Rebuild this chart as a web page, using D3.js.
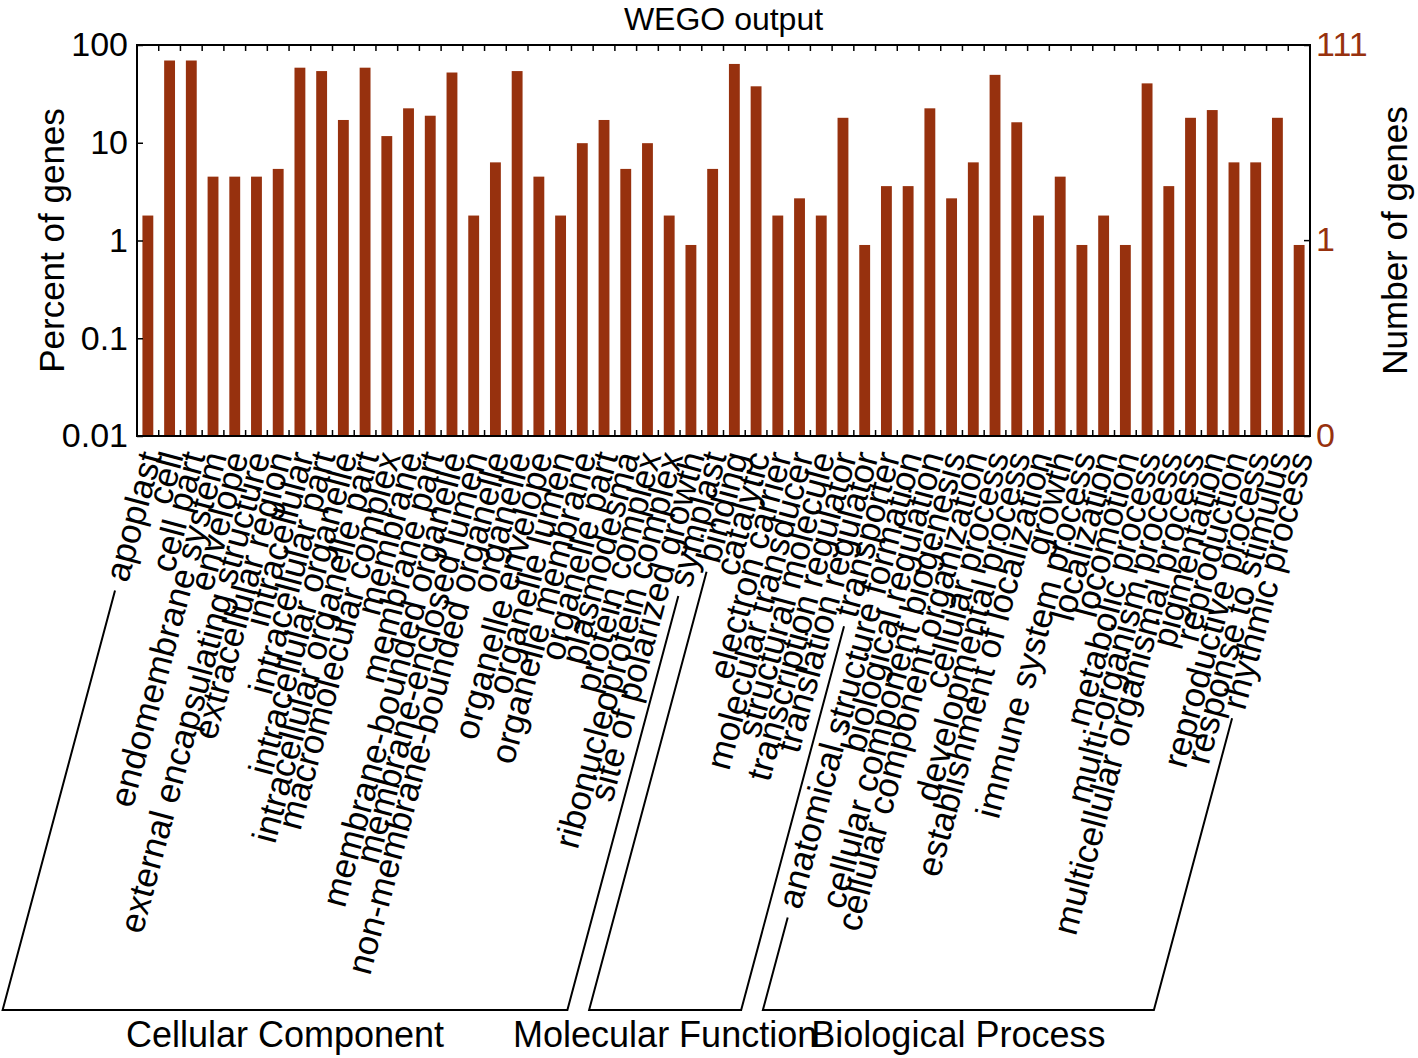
<!DOCTYPE html>
<html lang="en">
<head>
<meta charset="UTF-8">
<title>WEGO output</title>
<script src="https://d3js.org/d3.v7.min.js"></script>
<style>
  body { margin: 0; background: #fff; }
  text { font-family: "Liberation Sans", Arial, Helvetica, sans-serif; }
</style>
</head>
<body>
<div id="chart"></div>
<script>

// GO terms, in plotting order
const categories = [
  "apoplast", "cell", "cell part", "endomembrane system", "envelope",
  "external encapsulating structure", "extracellular region", "intracellular",
  "intracellular part", "intracellular organelle", "intracellular organelle part",
  "macromolecular complex", "membrane", "membrane part", "membrane-bounded organelle",
  "membrane-enclosed lumen", "non-membrane-bounded organelle", "organelle",
  "organelle envelope", "organelle lumen", "organelle membrane", "organelle part",
  "plasmodesma", "protein complex", "ribonucleoprotein complex",
  "site of polarized growth", "symplast",
  "binding", "catalytic", "electron carrier", "molecular transducer",
  "structural molecule", "transcription regulator", "translation regulator", "transporter",
  "anatomical structure formation", "biological regulation",
  "cellular component biogenesis", "cellular component organization", "cellular process",
  "developmental process", "establishment of localization", "growth",
  "immune system process", "localization", "locomotion", "metabolic process",
  "multi-organism process", "multicellular organismal process", "pigmentation",
  "reproduction", "reproductive process", "response to stimulus", "rhythmic process"
];

// percent of genes
const percents = [
  1.8, 69.4, 69.4, 4.5, 4.5, 4.5, 5.4, 58.6, 54.1, 17.1, 58.6,
  11.7, 22.5, 18.9, 52.3, 1.8, 6.3, 54.1, 4.5, 1.8, 9.9, 17.1,
  5.4, 9.9, 1.8, 0.9, 5.4,
  64.0, 37.8, 1.8, 2.7, 1.8, 18.0, 0.9, 3.6,
  3.6, 22.5, 2.7, 6.3, 49.5, 16.2, 1.8, 4.5, 0.9, 1.8, 0.9, 40.5,
  3.6, 18.0, 21.6, 6.3, 6.3, 18.0, 0.9
];

const groupNames = ["Cellular Component", "Molecular Function", "Biological Process"];
const groupSizes = [27, 8, 19];

const percentTicks = [0.01, 0.1, 1, 10, 100];
const geneTicks = [0, 1, 111];

// layout
const W = 1418, H = 1058;
const plot = {left: 137, right: 1310, top: 45, bottom: 436};
const angle = 75;                       // label rotation
const rad = angle * Math.PI / 180;
const labelY = 453;
const baseY = 1010;
const barColor = "#97310e";

const svg = d3.select("#chart").append("svg")
  .attr("width", W)
  .attr("height", H);

// scales
const x = d3.scaleBand()
  .domain(categories)
  .range([plot.left, plot.right])
  .paddingInner(0.5)
  .paddingOuter(0.25);

const y = d3.scaleLog()
  .domain([0.01, 100])
  .range([plot.bottom, plot.top]);

const yRight = d3.scaleSymlog()
  .constant(0.009)
  .domain([0, 111])
  .range([plot.bottom, plot.top]);

// bars
svg.append("g")
  .selectAll("rect")
  .data(categories)
  .join("rect")
    .attr("x", d => x(d))
    .attr("y", (d, i) => y(percents[i]))
    .attr("width", x.bandwidth())
    .attr("height", (d, i) => plot.bottom - y(percents[i]))
    .attr("fill", barColor);

// category separator ticks, top and bottom
const bounds = categories.slice(1).map(d => x(d) - x.step() * 0.25);
svg.append("g")
  .selectAll("line")
  .data(bounds)
  .join("line")
    .attr("x1", d => d).attr("x2", d => d)
    .attr("y1", plot.top).attr("y2", plot.top + 6)
    .attr("stroke", "#000").attr("stroke-width", 1.5);
svg.append("g")
  .selectAll("line")
  .data(bounds)
  .join("line")
    .attr("x1", d => d).attr("x2", d => d)
    .attr("y1", plot.bottom).attr("y2", plot.bottom - 6)
    .attr("stroke", "#000").attr("stroke-width", 1.5);

// left axis
const leftAxis = svg.append("g")
  .attr("transform", "translate(" + plot.left + ",0)")
  .call(d3.axisLeft(y).tickValues(percentTicks).tickFormat(d => String(d))
        .tickSizeInner(-6).tickSizeOuter(0).tickPadding(9));
leftAxis.select(".domain").remove();
leftAxis.selectAll("line").attr("stroke-width", 1.5);
leftAxis.selectAll("text")
  .attr("font-size", 34)
  .attr("fill", "#000")
  .style("font-family", "'Liberation Sans', Arial, sans-serif");

// right axis
const rightAxis = svg.append("g")
  .attr("transform", "translate(" + plot.right + ",0)")
  .call(d3.axisRight(yRight).tickValues(geneTicks).tickFormat(d3.format("d"))
        .tickSizeInner(-6).tickSizeOuter(0).tickPadding(6));
rightAxis.select(".domain").remove();
rightAxis.selectAll("line").attr("stroke-width", 1.5);
rightAxis.selectAll("text")
  .attr("font-size", 34)
  .attr("fill", barColor)
  .style("font-family", "'Liberation Sans', Arial, sans-serif");

// frame
svg.append("rect")
  .attr("x", plot.left).attr("y", plot.top)
  .attr("width", plot.right - plot.left)
  .attr("height", plot.bottom - plot.top)
  .attr("fill", "none")
  .attr("stroke", "#000")
  .attr("stroke-width", 2);

// title and axis titles
svg.append("text")
  .attr("x", (plot.left + plot.right) / 2)
  .attr("y", 30)
  .attr("text-anchor", "middle")
  .attr("font-size", 32)
  .text("WEGO output");

svg.append("text")
  .attr("transform", "translate(64," + ((plot.top + plot.bottom) / 2) + ") rotate(-90)")
  .attr("text-anchor", "middle")
  .attr("font-size", 35)
  .text("Percent of genes");

svg.append("text")
  .attr("transform", "translate(1407," + ((plot.top + plot.bottom) / 2) + ") rotate(-90)")
  .attr("text-anchor", "middle")
  .attr("font-size", 35)
  .text("Number of genes");

// rotated category labels
const labels = svg.append("g")
  .selectAll("text")
  .data(categories)
  .join("text")
    .attr("transform", d => "translate(" + (x(d) + x.bandwidth() / 2 + 4) + "," + labelY + ") rotate(" + (-angle) + ")")
    .attr("text-anchor", "end")
    .attr("dy", "0.3em")
    .attr("font-size", 35)
    .text(d => d);

const lens = [];
labels.each(function() { lens.push(this.getComputedTextLength()); });

// group brackets
let start = 0;
groupNames.forEach((name, g) => {
  const first = start, last = start + groupSizes[g] - 1;
  const ends = [first, last].map(i => {
    const ax = x(categories[i]) + x.bandwidth() / 2 + 4;
    const L = lens[i] + 10;
    const sx = ax - L * Math.cos(rad), sy = labelY + L * Math.sin(rad);
    const bx = ax - (baseY - labelY) / Math.tan(rad);
    return {sx, sy, bx};
  });
  const path = d3.path();
  path.moveTo(ends[0].sx, ends[0].sy);
  path.lineTo(ends[0].bx, baseY);
  path.lineTo(ends[1].bx, baseY);
  path.lineTo(ends[1].sx, ends[1].sy);
  svg.append("path")
    .attr("d", path.toString())
    .attr("fill", "none")
    .attr("stroke", "#000")
    .attr("stroke-width", 2);
  svg.append("text")
    .attr("x", (ends[0].bx + ends[1].bx) / 2)
    .attr("y", 1047)
    .attr("text-anchor", "middle")
    .attr("font-size", 36)
    .text(name);
  start += groupSizes[g];
});

</script>
</body>
</html>
